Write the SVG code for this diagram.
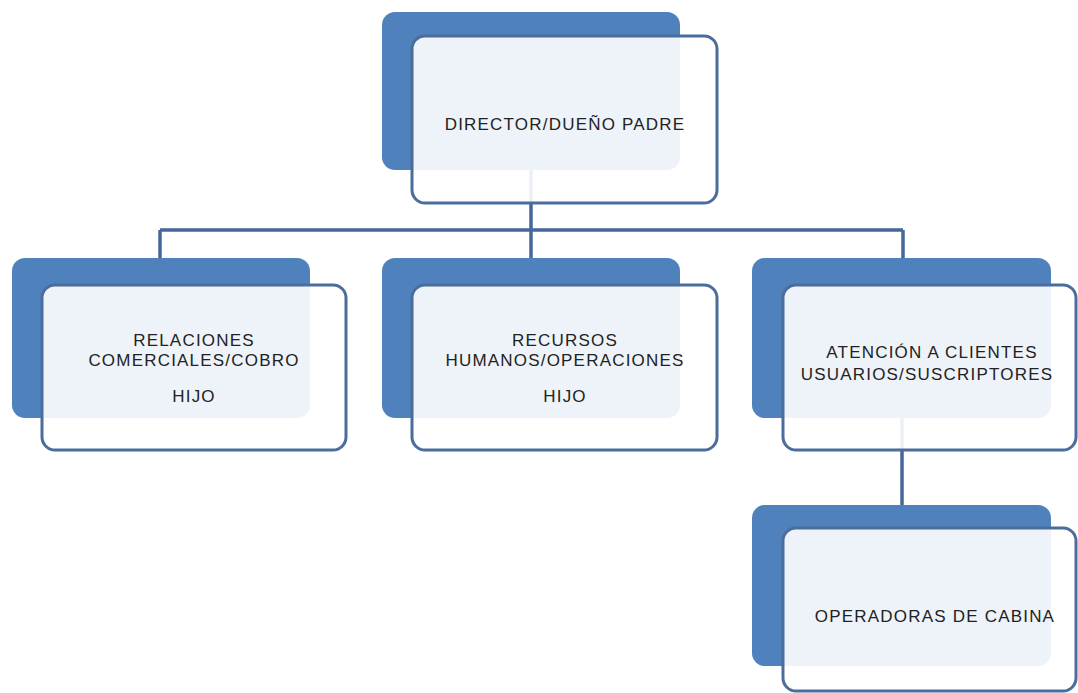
<svg xmlns="http://www.w3.org/2000/svg" width="1078" height="693" viewBox="0 0 1078 693">
<style>
.back{fill:#4f81bd;}
.front{fill:#ffffff;fill-opacity:0.9;stroke:#4a6d9c;stroke-width:3;}
.conn{fill:none;stroke:#46679a;stroke-width:3.5;}
.lbl{font-family:"Liberation Sans",Arial,sans-serif;font-size:17px;letter-spacing:1.2px;fill:#222222;text-anchor:middle;}
</style>
<rect width="1078" height="693" fill="#ffffff"/>
<g id="connectors">
<path class="conn" d="M531 168 V258 M160 230 H903 M160 230 V258 M903 230 V258"/>
<path class="conn" d="M902 418 V505"/>
</g>
<g id="node-director">
<rect class="back" x="382" y="12" width="298" height="158" rx="13"/>
<rect class="front" x="412" y="36" width="305" height="167" rx="13"/>
<text class="lbl" x="565" y="130">DIRECTOR/DUEÑO PADRE</text>
</g>
<g id="node-relaciones">
<rect class="back" x="12" y="258" width="298" height="160" rx="13"/>
<rect class="front" x="42" y="285" width="304" height="165" rx="13"/>
<text class="lbl" x="194" y="346">RELACIONES</text>
<text class="lbl" x="194" y="366">COMERCIALES/COBRO</text>
<text class="lbl" x="194" y="402">HIJO</text>
</g>
<g id="node-recursos">
<rect class="back" x="382" y="258" width="298" height="160" rx="13"/>
<rect class="front" x="412" y="285" width="305" height="165" rx="13"/>
<text class="lbl" x="565" y="346">RECURSOS</text>
<text class="lbl" x="565" y="366">HUMANOS/OPERACIONES</text>
<text class="lbl" x="565" y="402">HIJO</text>
</g>
<g id="node-atencion">
<rect class="back" x="752" y="258" width="299" height="160" rx="13"/>
<rect class="front" x="783" y="285" width="293" height="165" rx="13"/>
<text class="lbl" x="932" y="358">ATENCIÓN A CLIENTES</text>
<text class="lbl" x="927" y="380">USUARIOS/SUSCRIPTORES</text>
</g>
<g id="node-operadoras">
<rect class="back" x="752" y="505" width="299" height="161" rx="13"/>
<rect class="front" x="783" y="528" width="293" height="163" rx="13"/>
<text class="lbl" x="935" y="622">OPERADORAS DE CABINA</text>
</g>
</svg>
